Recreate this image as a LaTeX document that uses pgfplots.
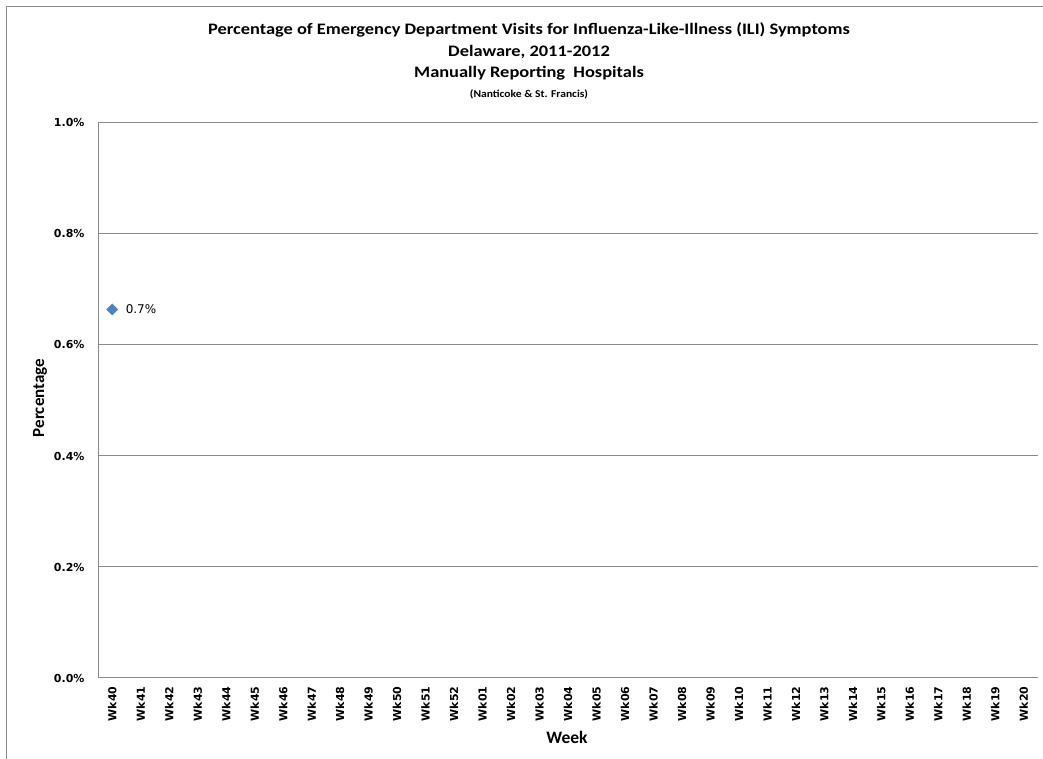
\documentclass[border=0pt]{standalone}
\usepackage{pgfplots}
\pgfplotsset{compat=1.18}
\usepackage{fontspec}
\setmainfont{Carlito}
\newfontfamily\tickfont{DejaVu Sans}
\definecolor{ilblue}{HTML}{4F81BD}
\definecolor{gridgray}{HTML}{898989}
\begin{document}
\begin{tikzpicture}
\begin{axis}[
    scale only axis,
    width=940pt, height=555pt,
    xmin=-0.5, xmax=32.5,
    ymin=0, ymax=1.0,
    axis x line*=bottom, axis y line*=left,
    axis line style={gridgray, line width=1pt},
    ytick={0,0.2,0.4,0.6,0.8,1.0},
    yticklabels={0.0\%,0.2\%,0.4\%,0.6\%,0.8\%,1.0\%},
    ymajorgrids,
    grid style={gridgray, line width=1pt},
    major tick length=0pt,
    xtick={0,...,32},
    xticklabels={Wk40,Wk41,Wk42,Wk43,Wk44,Wk45,Wk46,Wk47,Wk48,Wk49,Wk50,Wk51,Wk52,
                 Wk01,Wk02,Wk03,Wk04,Wk05,Wk06,Wk07,Wk08,Wk09,Wk10,Wk11,Wk12,Wk13,
                 Wk14,Wk15,Wk16,Wk17,Wk18,Wk19,Wk20},
    x tick label style={font=\tickfont\fontsize{11}{12}\selectfont\bfseries, rotate=90, anchor=east, xshift=-5pt},
    y tick label style={font=\tickfont\fontsize{11}{13}\selectfont\bfseries, xshift=-10pt},
    clip=false,
]
\addplot[only marks, mark=square*, mark size=3.9pt,
    mark options={fill=ilblue, draw=ilblue, rotate=45},
    nodes near coords={0.7\%},
    every node near coord/.style={font=\tickfont\fontsize{12}{14}\selectfont, anchor=west, xshift=10pt, black}]
    coordinates {(0,0.664)};
\end{axis}
% the axis box runs from (0,0) to (940pt,555pt); the page is shifted by (-98pt,-81pt)
\begin{scope}[x=1pt, y=1pt, shift={(-98pt,-81pt)}]
\useasboundingbox (0,0) rectangle (1043,759);
\draw[gridgray,line width=1.5pt] (6.5,-20) -- (6.5,752.5) -- (1070,752.5);
\begin{scope}[every node/.style={xscale=1.15, font=\fontsize{16}{18}\selectfont\bfseries}]
\node at (529,729) {Percentage of Emergency Department Visits for Influenza-Like-Illness (ILI) Symptoms};
\node at (529,707) {Delaware, 2011-2012};
\node at (529,686) {Manually Reporting\ \ Hospitals};
\end{scope}
\node[xscale=1.1, font=\fontsize{10.5}{12}\selectfont\bfseries] at (529,665) {(Nanticoke \& St. Francis)};
\node[font=\fontsize{17}{20}\selectfont\bfseries, rotate=90] at (40,361) {Percentage};
\node[font=\fontsize{17.5}{20}\selectfont\bfseries] at (567,22) {Week};
\end{scope}
\end{tikzpicture}
\end{document}
